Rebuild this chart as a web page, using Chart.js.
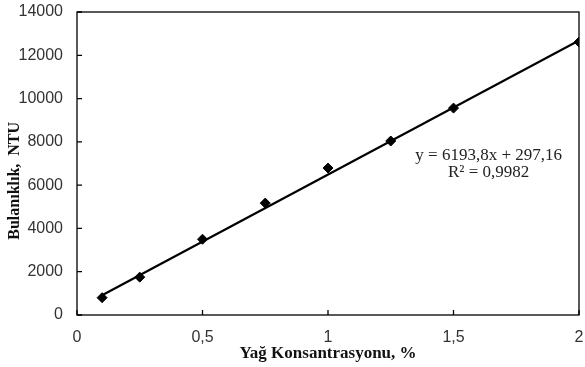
<!DOCTYPE html>
<html>
<head>
<meta charset="utf-8">
<script src="https://cdn.jsdelivr.net/npm/chart.js@4/dist/chart.umd.min.js"></script>
<style>
  html, body { margin: 0; padding: 0; background: #fff; }
  #wrap { width: 585px; height: 367px; }
</style>
</head>
<body>
<div id="wrap"><canvas id="myChart" width="585" height="367"></canvas></div>
<script>
// measured points
const concentration = [0.1, 0.25, 0.5, 0.75, 1.0, 1.25, 1.5, 2.0]
const turbidity = [800, 1750, 3500, 5170, 6790, 8040, 9560, 12610]

// trendline as printed on the chart
const slope = 6193.8
const intercept = 297.16
const eqLines = ['y = 6193,8x + 297,16', 'R² = 0,9982']

const xTicks = [0, 0.5, 1, 1.5, 2]
const xTickLabels = ['0', '0,5', '1', '1,5', '2']
const yTitle = 'Bulanıklık,  NTU'

const trendData = [concentration[0], concentration[concentration.length - 1]].map(x => ({ x: x, y: slope * x + intercept }))

// frame + inward tick marks + equation text + y title (sits a bit below centre in the original)
const framePlugin = {
  id: 'frame',
  afterDraw(chart) {
    const ctx = chart.ctx
    const a = chart.chartArea
    const xs = chart.scales.x, ys = chart.scales.y
    ctx.save()
    ctx.strokeStyle = '#000'
    ctx.lineWidth = 1.3
    ctx.strokeRect(a.left, a.top, a.right - a.left, a.bottom - a.top)
    ctx.beginPath()
    xTicks.forEach(v => {
      const px = xs.getPixelForValue(v)
      ctx.moveTo(px, a.bottom)
      ctx.lineTo(px, a.bottom - 5)
    })
    ys.ticks.forEach(t => {
      const py = ys.getPixelForValue(t.value)
      ctx.moveTo(a.left, py)
      ctx.lineTo(a.left + 5, py)
    })
    ctx.stroke()

    ctx.fillStyle = '#222'
    ctx.font = '17px "Liberation Serif", serif'
    ctx.textAlign = 'center'
    ctx.textBaseline = 'middle'
    const ex = xs.getPixelForValue(1.64)
    ctx.fillText(eqLines[0], ex, ys.getPixelForValue(7390))
    ctx.fillText(eqLines[1], ex, ys.getPixelForValue(6560))

    ctx.fillStyle = '#111'
    ctx.font = 'bold 16px "Liberation Serif", serif'
    ctx.translate(15, ys.getPixelForValue(6200))
    ctx.rotate(-Math.PI / 2)
    ctx.fillText(yTitle, 0, 0)
    ctx.restore()
  }
}

new Chart(document.querySelector('#myChart'), {
  type: 'scatter',
  data: {
    datasets: [{
      label: 'Bulanıklık',
      data: concentration.map((x, i) => ({ x: x, y: turbidity[i] })),
      pointStyle: 'rectRot',
      pointRadius: 5,
      backgroundColor: '#000',
      borderColor: '#000',
      order: 1
    }, {
      label: 'Trend',
      type: 'line',
      data: trendData,
      borderColor: '#000',
      borderWidth: 2.2,
      pointRadius: 0,
      fill: false,
      order: 2
    }]
  },
  options: {
    responsive: false,
    animation: false,
    layout: { padding: { top: 12, right: 2, left: 0, bottom: 0 } },
    plugins: {
      legend: { display: false },
      tooltip: { enabled: false }
    },
    scales: {
      x: {
        type: 'linear',
        min: 0, max: 2,
        afterBuildTicks: axis => { axis.ticks = xTicks.map(v => ({ value: v })) },
        afterFit: s => { s.height = 52; s.paddingLeft = 0; s.paddingRight = 0 },
        grid: { display: false, drawTicks: false },
        border: { display: false },
        ticks: {
          padding: 13,
          color: '#333',
          font: { family: '"Liberation Sans", sans-serif', size: 16 },
          callback: (v) => xTickLabels[xTicks.indexOf(v)]
        },
        title: {
          display: true,
          text: 'Yağ Konsantrasyonu, %',
          color: '#111',
          padding: { top: 0, bottom: 3 },
          font: { family: '"Liberation Serif", serif', size: 17, weight: 'bold' }
        }
      },
      y: {
        min: 0, max: 14000,
        afterFit: s => { s.width = 77; s.paddingTop = 0; s.paddingBottom = 0 },
        ticks: {
          stepSize: 2000,
          padding: 14,
          color: '#333',
          font: { family: '"Liberation Sans", sans-serif', size: 16 },
          callback: (v) => String(v)
        },
        grid: { display: false, drawTicks: false },
        border: { display: false },
        title: { display: false }
      }
    }
  },
  plugins: [framePlugin]
})
</script>
</body>
</html>
